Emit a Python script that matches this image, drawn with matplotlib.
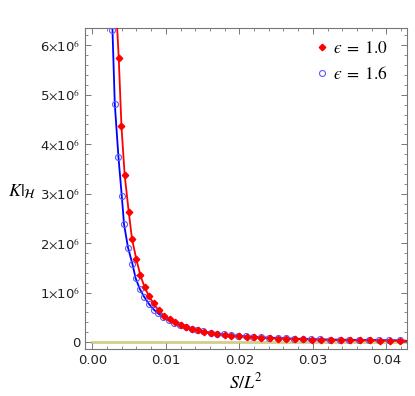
import matplotlib
matplotlib.use("Agg")
import matplotlib.pyplot as plt
from matplotlib.ticker import MultipleLocator, FuncFormatter

plt.rcParams['mathtext.fontset'] = 'stix'

# eps = 1.0 (red diamonds); K in units of 1e6
s_red = [0.00359, 0.00396, 0.00440, 0.00495, 0.00539, 0.00599, 0.00653, 0.00711,
         0.00770, 0.00833, 0.00901, 0.00975, 0.0105, 0.0112, 0.0120, 0.0128,
         0.0136, 0.0144, 0.0152, 0.0162, 0.0170, 0.0180, 0.0189, 0.0199, 0.0210,
         0.0220, 0.0230, 0.0241, 0.0253, 0.0264, 0.0275, 0.0287, 0.0299, 0.0311,
         0.0324, 0.0338, 0.0350, 0.0364, 0.0377, 0.0391, 0.0405, 0.0419]
k_red = [5.74, 4.36, 3.37, 2.63, 2.09, 1.67, 1.35, 1.11,
         0.93, 0.78, 0.64, 0.53, 0.46, 0.40, 0.35, 0.31,
         0.27, 0.235, 0.205, 0.18, 0.16, 0.145, 0.13, 0.118, 0.105,
         0.097, 0.088, 0.080, 0.072, 0.066, 0.060, 0.055, 0.050, 0.046,
         0.042, 0.039, 0.036, 0.034, 0.032, 0.030, 0.028, 0.027]

# eps = 1.6 (blue circles)
s_blue = [0.00274, 0.00305, 0.00355, 0.00400, 0.00431, 0.00485, 0.00545, 0.00589,
          0.00644, 0.00702, 0.00770, 0.00840, 0.00895, 0.00965, 0.0104, 0.0111,
          0.0119, 0.0127, 0.0135, 0.0143, 0.0151, 0.0161, 0.0169, 0.0179, 0.0188,
          0.0198, 0.0209, 0.0219, 0.0229, 0.0240, 0.0252, 0.0263, 0.0274, 0.0286,
          0.0298, 0.0310, 0.0323, 0.0337, 0.0349, 0.0363, 0.0376, 0.0390, 0.0404,
          0.0418]
k_blue = [6.30, 4.82, 3.74, 2.96, 2.38, 1.91, 1.58, 1.29,
          1.08, 0.92, 0.77, 0.65, 0.58, 0.50, 0.44, 0.39,
          0.34, 0.30, 0.27, 0.24, 0.215, 0.19, 0.17, 0.155, 0.14,
          0.128, 0.116, 0.106, 0.098, 0.090, 0.083, 0.076, 0.070, 0.065,
          0.060, 0.056, 0.052, 0.049, 0.046, 0.043, 0.041, 0.039, 0.037,
          0.035]

# curve ends (beyond the first / last marker)
s_red_ends, k_red_ends = [0.00334, 0.0430], [6.45, 0.025]
s_blue_ends, k_blue_ends = [0.00262, 0.0430], [6.60, 0.022]

y_ticks = [0, 1, 2, 3, 4, 5, 6]
x_ticks = [0.00, 0.01, 0.02, 0.03, 0.04]

fig = plt.figure(figsize=(4.15, 3.96), dpi=100)
ax = fig.add_axes([85/415, 1-349/396, (407-85)/415, (349-28)/396])

ax.axhline(0, xmin=(0.0+0.001)/0.0438, color='#d3cd8c', lw=2.0, zorder=1)

sr = [s_red_ends[0]] + s_red + [s_red_ends[1]]
kr = [k_red_ends[0]] + k_red + [k_red_ends[1]]
sb = [s_blue_ends[0]] + s_blue + [s_blue_ends[1]]
kb = [k_blue_ends[0]] + k_blue + [k_blue_ends[1]]
ax.plot(sb, kb, color='#0000ff', lw=1.3, zorder=2)
ax.plot(sr, kr, color='#ff0000', lw=1.3, zorder=3)
ax.plot(s_blue, k_blue, ls='none', marker='o', ms=4.3, mfc='none',
        mec='#5b5bff', mew=0.8, zorder=4, label='$\u03f5\\;=\\;1.6$')
ax.plot(s_red, k_red, ls='none', marker='D', ms=3.3, color='#ff0000',
        zorder=5, label='$\u03f5\\;=\\;1.0$')

ax.set_xlim(-0.001, 0.0428)
ax.set_ylim(-0.14, 6.35)

ax.set_xticks(x_ticks)
ax.set_yticks(y_ticks)
ax.xaxis.set_minor_locator(MultipleLocator(0.002))
ax.yaxis.set_minor_locator(MultipleLocator(0.2))
ax.xaxis.set_major_formatter(FuncFormatter(lambda v, p: f'{v:.2f}'))
ax.yaxis.set_major_formatter(FuncFormatter(
    lambda v, p: '0' if v == 0 else f'{int(round(v))}' + r'$\times$10$^{6}$'))

ax.tick_params(which='both', direction='in', top=True, right=True,
               color='#777777', labelsize=9.5, labelcolor='#222222')
ax.tick_params(which='major', length=4, width=0.7)
ax.tick_params(which='minor', length=2, width=0.6)
for sp in ax.spines.values():
    sp.set_color('#777777')
    sp.set_linewidth(0.8)

ax.set_xlabel(r'$S/L^2$', fontsize=13, labelpad=4)
ax.set_ylabel(r'$K|_{\mathcal{H}}$', fontsize=13, rotation=0, labelpad=0)
ax.yaxis.set_label_coords(-0.195, 0.46)

h, l = ax.get_legend_handles_labels()
ax.legend(h[::-1], l[::-1], loc='upper right', frameon=False, fontsize=12.5,
          handletextpad=0.0, handlelength=1.2, labelspacing=0.45,
          borderaxespad=0.25, bbox_to_anchor=(0.975, 1.0))

fig.savefig('out.png', dpi=100)
